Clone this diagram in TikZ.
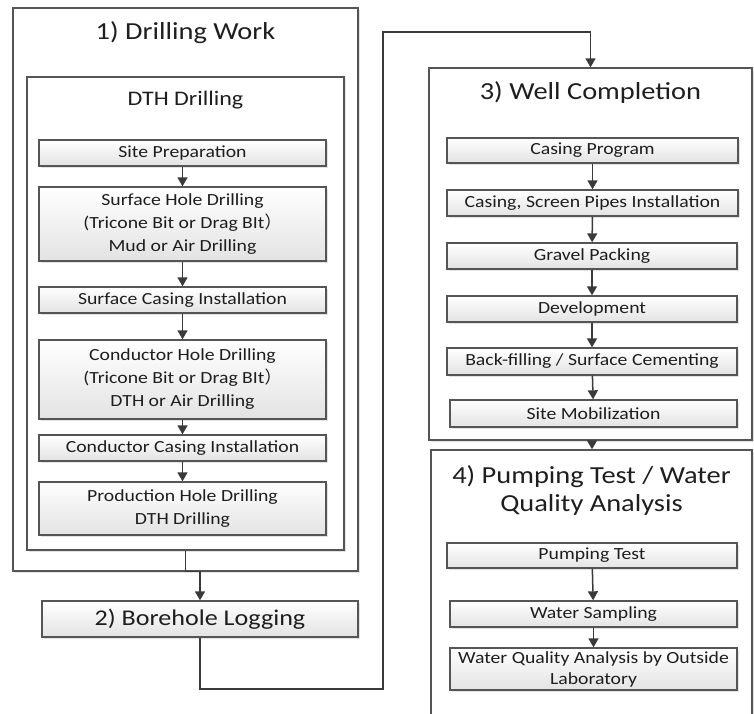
\documentclass[tikz,border=0pt]{standalone}
\usepackage{fontspec}
\setmainfont{Carlito}[FakeStretch=1.16]
\newfontfamily\cjk{Noto Sans CJK SC}
\usetikzlibrary{arrows.meta,shadows}
\definecolor{linec}{HTML}{555555}
\definecolor{arrc}{HTML}{3A3A3A}
\definecolor{txtc}{HTML}{1E1E1E}
\tikzset{
  base/.style={draw=linec, line width=1.4pt, text=txtc, inner sep=0pt, align=center,
    drop shadow={shadow xshift=2pt, shadow yshift=-2pt, fill=black!18, opacity=0.6}},
  bigbox/.style={base, fill=white},
  stepbox/.style={base, top color=white, bottom color=black!11, font=\fontsize{17}{23}\selectfont},
  titletext/.style={text=txtc, inner sep=0pt, align=center, font=\fontsize{24.5}{28}\selectfont},
  subtitle/.style={text=txtc, inner sep=0pt, font=\fontsize{20.7}{24}\selectfont},
  arr/.style={draw=arrc, line width=1.5pt, -{Triangle[width=10pt,length=9pt]}},
}
\newcommand{\fwparen}{{\cjk ）}}
\begin{document}
\begin{tikzpicture}[x=1pt,y=-1pt]
\clip (0,0) rectangle (754,713);
\fill[white] (0,0) rectangle (754,713);
% big boxes
\node[bigbox, minimum width=345pt, minimum height=563pt] (out1) at (185.5,289.5) {};
\node[bigbox, minimum width=317pt, minimum height=473pt] (dth) at (185.5,313.5) {};
\node[bigbox, minimum width=323pt, minimum height=372pt] (box3) at (590.5,254) {};
\node[bigbox, minimum width=321pt, minimum height=300pt] (box4) at (591.5,600) {};
% titles
\node[titletext] (t1) at (185.5,33) {1) Drilling Work};
\node[subtitle] (t1b) at (185.5,100) {DTH Drilling};
\node[titletext] (t3) at (590.5,93) {3) Well Completion};
\node[titletext] (t4) at (591.5,491) {4) Pumping Test / Water\\Quality Analysis};
% drilling steps
\node[stepbox, minimum width=287pt, minimum height=26pt] (sp) at (182.5,153) {Site Preparation};
\node[stepbox, minimum width=287pt, minimum height=74pt] (shd) at (182.5,224) {Surface Hole Drilling\\(Tricone Bit or Drag BIt\fwparen\\Mud or Air Drilling};
\node[stepbox, minimum width=287pt, minimum height=26pt] (sci) at (182.5,300) {Surface Casing Installation};
\node[stepbox, minimum width=287pt, minimum height=79pt] (chd) at (182.5,379.5) {Conductor Hole Drilling\\(Tricone Bit or Drag BIt\fwparen\\DTH or Air Drilling};
\node[stepbox, minimum width=287pt, minimum height=26pt] (cci) at (182.5,448) {Conductor Casing Installation};
\node[stepbox, minimum width=287pt, minimum height=53pt] (phd) at (182.5,508.5) {Production Hole Drilling\\DTH Drilling};
% borehole logging
\node[stepbox, minimum width=316pt, minimum height=36pt, font=\fontsize{22.5}{26}\selectfont] (bl) at (200,619) {2) Borehole Logging};
% well completion steps
\node[stepbox, minimum width=291pt, minimum height=25pt] (cp) at (592.5,150.5) {Casing Program};
\node[stepbox, minimum width=291pt, minimum height=26pt] (csp) at (592.5,203) {Casing, Screen Pipes Installation};
\node[stepbox, minimum width=290pt, minimum height=26pt] (gp) at (592,256) {Gravel Packing};
\node[stepbox, minimum width=290pt, minimum height=26pt] (dev) at (592,309) {Development};
\node[stepbox, minimum width=290pt, minimum height=27pt] (bf) at (592,361.5) {Back-filling / Surface Cementing};
\node[stepbox, minimum width=287pt, minimum height=27pt] (sm) at (593.5,413.5) {Site Mobilization};
% pumping test steps
\node[stepbox, minimum width=290pt, minimum height=25pt] (pt) at (592,555.5) {Pumping Test};
\node[stepbox, minimum width=287pt, minimum height=26pt] (ws) at (593.5,614) {Water Sampling};
\node[stepbox, minimum width=287pt, minimum height=42pt, font=\fontsize{17}{21}\selectfont] (wqa) at (593.5,669) {Water Quality Analysis by Outside\\Laboratory};
% connectors
\draw[arr] (sp) -- (shd);
\draw[arr] (shd) -- (sci);
\draw[arr] (sci) -- (chd);
\draw[arr] (chd) -- (cci);
\draw[arr] (cci) -- (phd);
\draw[arr] (dth.south) -- (dth.south |- out1.south) -| (bl.north);
\coordinate (c1) at (383,689);
\coordinate (c2) at (383,32);
\draw[arr] (bl.south) |- (c1) -- (c2) -| (box3.north);
\coordinate (ax) at (592,0);
\draw[arr] (box3.south -| ax) -- (box4.north -| ax);
\draw[arr] (cp) -- (csp);
\draw[arr] (csp) -- (gp);
\draw[arr] (gp) -- (dev);
\draw[arr] (dev) -- (bf);
\draw[arr] (bf) -- (sm);
\draw[arr] (pt) -- (ws);
\draw[arr] (ws) -- (wqa);
\end{tikzpicture}
\end{document}
